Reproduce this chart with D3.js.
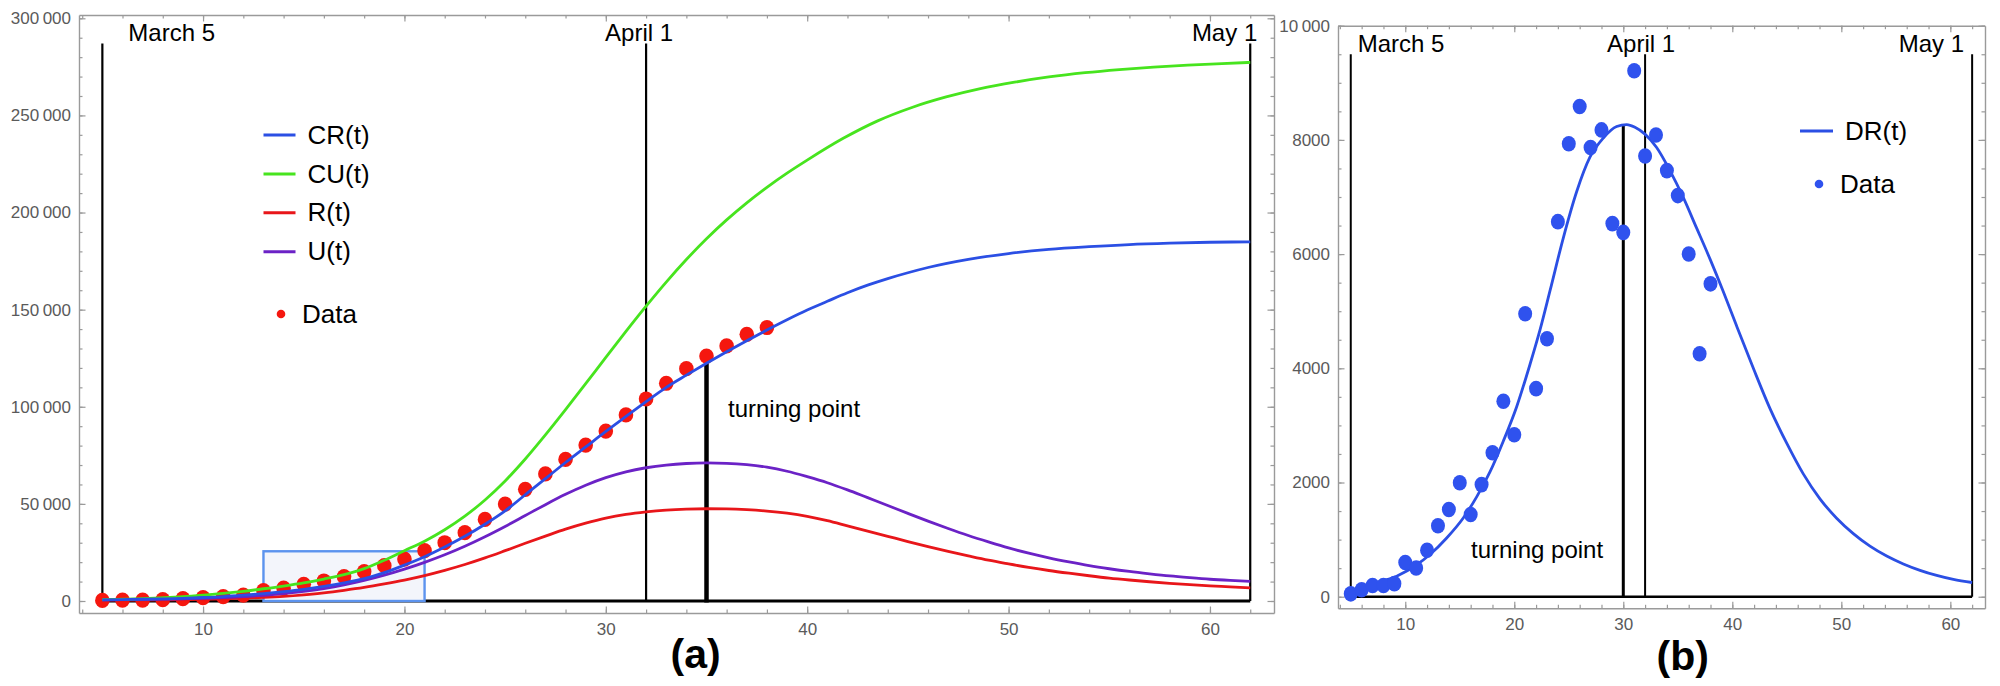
<!DOCTYPE html>
<html>
<head>
<meta charset="utf-8">
<script src="https://cdn.jsdelivr.net/npm/d3@7"></script>
<style>
  html, body { margin: 0; padding: 0; background: #fff; }
  svg { display: block; }
  text { font-family: "Liberation Sans", Arial, sans-serif; }
</style>
</head>
<body>
<svg id="chart" width="2000" height="686"></svg>
<script>
// ---------------- DATA ----------------
// Panel (a): model curves (day, value)
const cuDays = [5, 7, 9, 10, 11, 12, 13, 14, 15, 16, 17, 18, 19, 20, 21, 22, 23, 24, 25, 26, 27, 28, 29, 30, 31, 32, 33, 34, 35, 36, 37, 38, 39, 40, 41.79, 43.5, 45.2, 46.9, 48.6, 50.3, 52.0, 53.8, 55.5, 57.2, 58.9, 60.6, 62];
const cuVals = [700, 1200, 2200, 3000, 3900, 5000, 6300, 7700, 9300, 11300, 13600, 16700, 21000, 25900, 30800, 36700, 43700, 52000, 61800, 73100, 85500, 98500, 111900, 125400, 138800, 151800, 164200, 175800, 186500, 196200, 205000, 213000, 220300, 227000, 238200, 247200, 254100, 259500, 263800, 267100, 269800, 272000, 273600, 274900, 275900, 276700, 277300];

const crDays = [5, 6, 7, 8, 9, 10, 11, 12, 13, 14, 15, 16, 17, 18, 19, 20, 21, 22, 23, 24, 25, 26, 27, 28, 29, 30, 31, 32, 33, 34, 35, 36, 37, 38, 39, 40, 41, 42, 43, 44, 45, 46, 48, 50, 52, 54, 56, 58, 60, 62];
const crVals = [600, 750, 900, 1100, 1400, 1800, 2300, 3000, 3800, 4800, 6000, 7500, 9300, 11500, 14600, 18500, 22800, 27800, 33300, 39500, 46400, 54700, 63000, 71300, 79300, 87300, 95000, 102600, 110000, 116300, 122400, 128300, 134000, 139500, 144800, 149800, 154300, 158700, 162600, 166000, 169000, 171700, 175900, 178900, 181000, 182400, 183500, 184200, 184700, 184900];

const uDays = d3.range(5, 63);
const uVals = [600, 700, 800, 950, 1150, 1400, 1750, 2250, 2950, 3800, 4900, 6400, 8300, 10600, 13300, 16400, 19900, 23800, 28200, 33100, 38400, 44000, 49600, 54900, 59600, 63500, 66500, 68600, 70000, 70800, 71100, 70900, 70200, 68900, 66800, 64000, 60900, 57200, 53200, 49200, 45100, 41100, 37300, 33700, 30400, 27300, 24600, 22200, 20100, 18200, 16600, 15200, 14000, 12900, 12000, 11200, 10600, 10100];

const rDays = d3.range(5, 63);
const rVals = [400, 450, 520, 600, 720, 900, 1150, 1450, 1850, 2400, 3200, 4200, 5500, 7000, 8800, 10800, 13100, 15800, 18800, 22200, 25900, 29700, 33400, 37000, 40100, 42700, 44600, 45900, 46800, 47300, 47500, 47400, 47000, 46300, 45200, 43600, 41400, 38700, 36000, 33300, 30600, 28000, 25500, 23200, 21000, 19100, 17300, 15700, 14300, 13000, 11800, 10800, 9900, 9100, 8400, 7800, 7300, 6800];

// Panel (a): reported cumulative data
const dataDays = [5, 6, 7, 8, 9, 10, 11, 12, 13, 14, 15, 16, 17, 18, 19, 20, 21, 22, 23, 24, 25, 26, 27, 28, 29, 30, 31, 32, 33, 34, 35, 36, 37, 38];
const cumData = [300, 400, 500, 700, 1200, 1700, 2200, 3000, 5300, 6600, 8600, 10300, 12500, 15100, 18200, 21600, 25900, 30000, 35200, 42000, 49900, 57500, 65400, 72900, 80300, 87500, 95800, 104000, 112100, 119600, 126100, 131300, 137300, 140800];

// Panel (b): daily model curve and data
const drDays = [5, 7.07, 9.21, 11.05, 12.27, 13.8, 15.32, 16.55, 17.77, 18.99, 20.22, 21.44, 22.36, 23.28, 24.5, 25.72, 26.94, 28.17, 29.39, 30.31, 31.07, 31.99, 33.06, 34.28, 35.5, 36.73, 37.95, 39.17, 40.4, 41.93, 43.46, 44.99, 46.51, 48.04, 49.57, 51.1, 52.63, 54.16, 55.69, 57.22, 58.75, 60.28, 62];
const drVals = [80, 230, 360, 560, 739, 1028, 1378, 1748, 2185, 2723, 3328, 4067, 4672, 5360, 6286, 7092, 7697, 8034, 8235, 8269, 8222, 8101, 7866, 7462, 6992, 6454, 5916, 5345, 4739, 4000, 3294, 2689, 2151, 1714, 1375, 1105, 885, 712, 574, 462, 372, 302, 249];
const dailyData = [50, 121, 195, 195, 229, 598, 504, 813, 1244, 1526, 1997, 1439, 1963, 2521, 3422, 2837, 4955, 3644, 4518, 6568, 7933, 8585, 7866, 8175, 6534, 6380, 9210, 7718, 8087, 7462, 7025, 6003, 4255, 5479];

// Markers and ticks
const markerDays = [5, 32, 62];
const markerNames = ["March 5", "April 1", "May 1"];
const turnA = 35, turnAValue = 125500, markerTopA = 287000;
const turnB = 30, turnBValue = 8250, markerTopB = 9500;
const zoomBox = {x0: 13, x1: 21, y0: 0, y1: 25600};

const xMajor = [10, 20, 30, 40, 50, 60];
const xMajorLabels = ["10", "20", "30", "40", "50", "60"];
const xMinor = d3.range(4, 63, 2);
const yMajorA = [0, 50000, 100000, 150000, 200000, 250000, 300000];
const yMajorALabels = ["0", "50\u2009000", "100\u2009000", "150\u2009000", "200\u2009000", "250\u2009000", "300\u2009000"];
const yMinorA = d3.range(0, 300001, 10000);
const yMajorB = [0, 2000, 4000, 6000, 8000, 10000];
const yMajorBLabels = ["0", "2000", "4000", "6000", "8000", "10\u2009000"];
const yMinorB = d3.range(0, 10001, 500);

const legendA = ["CR(t)", "CU(t)", "R(t)", "U(t)"];
const legendB = ["DR(t)"];

// ---------------- STYLE ----------------
const C = {
  blue: "#2b4fe4", green: "#47e41e", red: "#e8161a", purple: "#6b22c6",
  dotRed: "#f5170f", dotBlue: "#2f52ee", frame: "#9a9a9a", tickText: "#5a5a5a",
  boxStroke: "#5c93ee", boxFill: "#f3f5fb"
};

const svg = d3.select("#chart");
svg.append("rect").attr("width", 2000).attr("height", 686).attr("fill", "#fff");

function frame(g, x, y, yVals, yLabels, yMinor, xPad) {
  const [yb, yt] = y.range();
  const [xl, xr] = x.range();
  const style = sel => {
    sel.selectAll(".domain").attr("stroke", C.frame).attr("stroke-width", 1.4);
    sel.selectAll(".tick line").attr("stroke", C.frame).attr("stroke-width", 1.2);
    sel.selectAll(".tick text").attr("fill", C.tickText).attr("font-size", 17)
      .attr("font-family", '"Liberation Sans", Arial, sans-serif');
  };
  const fx = d => xMajorLabels[xMajor.indexOf(d)];
  const fy = d => yLabels[yVals.indexOf(d)];
  g.append("g").attr("transform", `translate(0,${yb})`)
    .call(d3.axisBottom(x).tickValues(xMinor).tickSize(-3.5).tickSizeOuter(0).tickFormat(""))
    .call(style);
  g.append("g").attr("transform", `translate(0,${yb})`)
    .call(d3.axisBottom(x).tickValues(xMajor).tickSize(-6.5).tickSizeOuter(0).tickPadding(xPad).tickFormat(fx))
    .call(style).call(s => s.select(".domain").remove());
  g.append("g").attr("transform", `translate(0,${yt})`)
    .call(d3.axisTop(x).tickValues(xMinor).tickSize(-3.5).tickSizeOuter(0).tickFormat(""))
    .call(style);
  g.append("g").attr("transform", `translate(0,${yt})`)
    .call(d3.axisTop(x).tickValues(xMajor).tickSize(-6.5).tickSizeOuter(0).tickFormat(""))
    .call(style).call(s => s.select(".domain").remove());
  g.append("g").attr("transform", `translate(${xl},0)`)
    .call(d3.axisLeft(y).tickValues(yMinor).tickSize(-3.5).tickSizeOuter(0).tickFormat(""))
    .call(style);
  g.append("g").attr("transform", `translate(${xl},0)`)
    .call(d3.axisLeft(y).tickValues(yVals).tickSize(-6.5).tickSizeOuter(0).tickPadding(8).tickFormat(fy))
    .call(style).call(s => s.select(".domain").remove());
  g.append("g").attr("transform", `translate(${xr},0)`)
    .call(d3.axisRight(y).tickValues(yMinor).tickSize(-3.5).tickSizeOuter(0).tickFormat(""))
    .call(style);
  g.append("g").attr("transform", `translate(${xr},0)`)
    .call(d3.axisRight(y).tickValues(yVals).tickSize(-6.5).tickSizeOuter(0).tickFormat(""))
    .call(style).call(s => s.select(".domain").remove());
}

function txt(g, x, y, s, size, anchor, weight) {
  return g.append("text").attr("x", x).attr("y", y).attr("font-size", size)
    .attr("text-anchor", anchor || "start").attr("font-weight", weight || "normal")
    .attr("fill", "#000").text(s);
}

const zip = (a, b) => a.map((d, i) => [d, b[i]]);

// ================= PANEL (a) =================
const xA = d3.scaleLinear().domain([3.84, 63.18]).range([79, 1274]);
const yA = d3.scaleLinear().domain([-6180, 301700]).range([613, 15]);
const gA = svg.append("g");
frame(gA, xA, yA, yMajorA, yMajorALabels, yMinorA, 10);

gA.append("line").attr("x1", xA(5)).attr("x2", xA(62)).attr("y1", yA(0)).attr("y2", yA(0))
  .attr("stroke", "#000").attr("stroke-width", 3);
gA.selectAll(".mk").data(markerDays).join("line")
  .attr("x1", d => xA(d)).attr("x2", d => xA(d)).attr("y1", yA(0)).attr("y2", yA(markerTopA))
  .attr("stroke", "#000").attr("stroke-width", 2.2);
gA.append("line").attr("x1", xA(turnA)).attr("x2", xA(turnA)).attr("y1", yA(0) + 1.5).attr("y2", yA(turnAValue))
  .attr("stroke", "#000").attr("stroke-width", 4.5);

gA.append("rect").attr("x", xA(zoomBox.x0)).attr("y", yA(zoomBox.y1))
  .attr("width", xA(zoomBox.x1) - xA(zoomBox.x0)).attr("height", yA(zoomBox.y0) - yA(zoomBox.y1))
  .attr("fill", C.boxFill).attr("stroke", C.boxStroke).attr("stroke-width", 2.4);

gA.selectAll(".dot").data(zip(dataDays, cumData)).join("ellipse")
  .attr("cx", d => xA(d[0])).attr("cy", d => yA(d[1])).attr("rx", 7.3).attr("ry", 7.6).attr("fill", C.dotRed);

const lineA = d3.line().x(d => xA(d[0])).y(d => yA(d[1])).curve(d3.curveMonotoneX);
const seriesA = [
  {days: rDays, vals: rVals, color: C.red},
  {days: uDays, vals: uVals, color: C.purple},
  {days: cuDays, vals: cuVals, color: C.green},
  {days: crDays, vals: crVals, color: C.blue}
];
seriesA.forEach(s => {
  gA.append("path").attr("d", lineA(zip(s.days, s.vals))).attr("fill", "none")
    .attr("stroke", s.color).attr("stroke-width", 2.8);
});

txt(gA, xA(5) + 26, 41, markerNames[0], 24);
txt(gA, xA(32) - 41, 41, markerNames[1], 24);
txt(gA, xA(62) + 7, 41, markerNames[2], 24, "end");
txt(gA, 728, 417, "turning point", 24);

const legColorsA = [C.blue, C.green, C.red, C.purple];
const legY = [135, 174, 212.7, 251.7];
legendA.forEach((name, i) => {
  gA.append("line").attr("x1", 263.5).attr("x2", 295.5).attr("y1", legY[i]).attr("y2", legY[i])
    .attr("stroke", legColorsA[i]).attr("stroke-width", 3);
  txt(gA, 307.5, legY[i] + 8.5, name, 26);
});
gA.append("circle").attr("cx", 281).attr("cy", 314).attr("r", 4.3).attr("fill", C.dotRed);
txt(gA, 302, 322.5, "Data", 26);

txt(gA, 695.6, 668, "(a)", 41, "middle", "bold");

// ================= PANEL (b) =================
const xB = d3.scaleLinear().domain([3.83, 63.18]).range([1338, 1985]);
const yB = d3.scaleLinear().domain([-203, 10000]).range([608.3, 25.7]);
const gB = svg.append("g");
frame(gB, xB, yB, yMajorB, yMajorBLabels, yMinorB, 9.6);

gB.append("line").attr("x1", xB(5)).attr("x2", xB(62)).attr("y1", yB(0)).attr("y2", yB(0))
  .attr("stroke", "#000").attr("stroke-width", 2.6);
gB.selectAll(".mk").data(markerDays).join("line")
  .attr("x1", d => xB(d)).attr("x2", d => xB(d)).attr("y1", yB(0)).attr("y2", yB(markerTopB))
  .attr("stroke", "#000").attr("stroke-width", 2);
gB.append("line").attr("x1", xB(turnB)).attr("x2", xB(turnB)).attr("y1", yB(0)).attr("y2", yB(turnBValue))
  .attr("stroke", "#000").attr("stroke-width", 3);

const lineB = d3.line().x(d => xB(d[0])).y(d => yB(d[1])).curve(d3.curveMonotoneX);
gB.append("path").attr("d", lineB(zip(drDays, drVals))).attr("fill", "none")
  .attr("stroke", C.blue).attr("stroke-width", 2.8);

gB.selectAll(".dot").data(zip(dataDays, dailyData)).join("ellipse")
  .attr("cx", d => xB(d[0])).attr("cy", d => yB(d[1])).attr("rx", 7.0).attr("ry", 7.8).attr("fill", C.dotBlue);

txt(gB, xB(5) + 7, 51.5, markerNames[0], 24);
txt(gB, xB(32) - 38, 51.5, markerNames[1], 24);
txt(gB, xB(62) - 8, 51.5, markerNames[2], 24, "end");
txt(gB, 1471, 558, "turning point", 24);

gB.append("line").attr("x1", 1800).attr("x2", 1833).attr("y1", 131).attr("y2", 131)
  .attr("stroke", C.blue).attr("stroke-width", 3);
txt(gB, 1845, 139.5, legendB[0], 26);
gB.append("circle").attr("cx", 1819).attr("cy", 184).attr("r", 4.3).attr("fill", C.dotBlue);
txt(gB, 1840, 192.5, "Data", 26);

txt(gB, 1682.8, 669.5, "(b)", 41, "middle", "bold");
</script>
</body>
</html>
